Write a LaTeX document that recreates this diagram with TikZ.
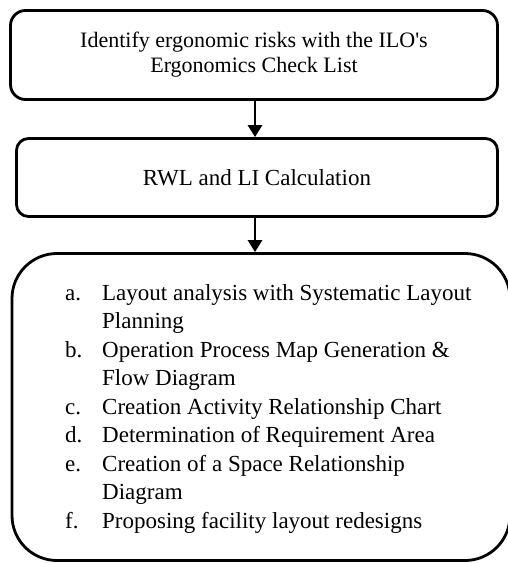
\documentclass[tikz,border=0pt]{standalone}
\usepackage{fontspec}
\setmainfont{Liberation Serif}
\usetikzlibrary{arrows.meta,positioning,calc}

\begin{document}
\begin{tikzpicture}[x=1pt, y=-1pt,
    stepbox/.style={draw, line width=2.8pt, align=center, inner sep=0pt},
    flowarrow/.style={-{Triangle[length=12pt,width=14pt]}, line width=2.8pt},
    every node/.style={font=\fontsize{23}{25}\selectfont}]
    \useasboundingbox (0,0) rectangle (507,563);
    % the three steps
    \node[stepbox, rounded corners=15pt, minimum width=487pt, minimum height=89pt,
      font=\fontsize{22}{25}\selectfont] (check) at (254,55)
      {Identify ergonomic risks with the ILO\textquotesingle s\\ Ergonomics Check List};
    \node[stepbox, rounded corners=12pt, minimum width=481pt, minimum height=78pt] (calc) at (257,177.5)
      {RWL and LI Calculation};
    \node[stepbox, rounded corners=45pt, minimum width=498pt, minimum height=307pt] (layout) at (261,407) {};
    % sub-steps of the layout redesign
    \node[anchor=north west, inner sep=0pt, font=\fontsize{23}{28.5}\selectfont] (tasks) at (65,280)
      {\begin{tabular}{@{}p{37pt}@{}l@{}}
        a. & Layout analysis with Systematic Layout\\
           & Planning\\
        b. & Operation Process Map Generation \&\\
           & Flow Diagram\\
        c. & Creation Activity Relationship Chart\\
        d. & Determination of Requirement Area\\
        e. & Creation of a Space Relationship\\
           & Diagram\\
        f. & Proposing facility layout redesigns
      \end{tabular}};
    \draw[flowarrow] (check.south -| 255,0) -- (calc.north -| 255,0);
    \draw[flowarrow] (calc.south -| 255,0) -- (layout.north -| 255,0);
  \end{tikzpicture}
\end{document}
